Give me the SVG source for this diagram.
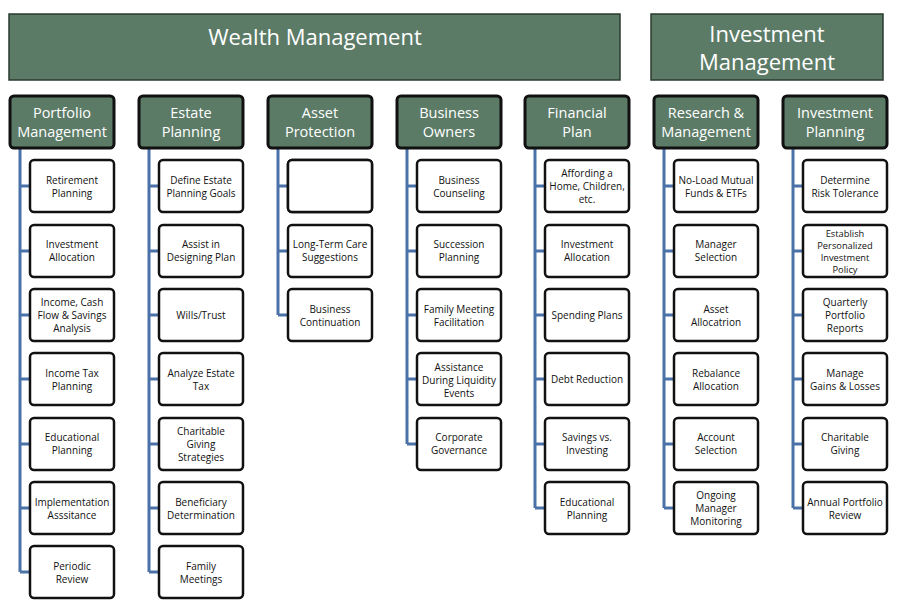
<svg xmlns="http://www.w3.org/2000/svg" width="900" height="610" viewBox="0 0 900 610">
<style>
.ban{fill:#5c7b67;stroke:#2b3a30;stroke-width:1.5}
.hd{fill:#5c7b67;stroke:#111;stroke-width:3}
.bx{fill:#fff;stroke:#111;stroke-width:2.5}
.bt{font-family:"Open Sans","Liberation Sans",sans-serif;font-size:22px;fill:#fff;text-anchor:middle}
.ht{font-family:"Open Sans","Liberation Sans",sans-serif;font-size:14.5px;fill:#fff;text-anchor:middle}
.ct{font-family:"Open Sans","Liberation Sans",sans-serif;font-size:10px;fill:#111;text-anchor:middle}
.cs{font-family:"Open Sans","Liberation Sans",sans-serif;font-size:9.3px;fill:#111;text-anchor:middle}
.ln{fill:none;stroke:#4a72a8;stroke-width:3}
</style>
<rect width="900" height="610" fill="#fff"/>
<g id="wealth"><rect class="ban" x="9" y="14" width="611" height="66"/><text class="bt" x="315" y="45">Wealth Management</text></g>
<g id="invest"><rect class="ban" x="651" y="14" width="232" height="66"/><text class="bt" x="767" y="42">Investment</text><text class="bt" x="767" y="70">Management</text></g>
<g id="connectors">
<path class="ln" d="M20 148V572M20 186H30M20 251H30M20 315H30M20 379H30M20 444H30M20 508H30M20 572H30"/>
<path class="ln" d="M149 148V572M149 186H159M149 251H159M149 315H159M149 379H159M149 444H159M149 508H159M149 572H159"/>
<path class="ln" d="M278 148V315M278 186H288M278 251H288M278 315H288"/>
<path class="ln" d="M407 148V444M407 186H417M407 251H417M407 315H417M407 379H417M407 444H417"/>
<path class="ln" d="M535 148V508M535 186H545M535 251H545M535 315H545M535 379H545M535 444H545M535 508H545"/>
<path class="ln" d="M664 148V508M664 186H674M664 251H674M664 315H674M664 379H674M664 444H674M664 508H674"/>
<path class="ln" d="M793 148V508M793 186H803M793 251H803M793 315H803M793 379H803M793 444H803M793 508H803"/>
</g>
<g id="h1"><rect class="hd" x="10" y="96" width="104" height="52" rx="4"/><text class="ht" x="62" y="118">Portfolio</text><text class="ht" x="62" y="137">Management</text></g>
<g id="h2"><rect class="hd" x="139" y="96" width="104" height="52" rx="4"/><text class="ht" x="191" y="118">Estate</text><text class="ht" x="191" y="137">Planning</text></g>
<g id="h3"><rect class="hd" x="268" y="96" width="104" height="52" rx="4"/><text class="ht" x="320" y="118">Asset</text><text class="ht" x="320" y="137">Protection</text></g>
<g id="h4"><rect class="hd" x="397" y="96" width="104" height="52" rx="4"/><text class="ht" x="449" y="118">Business</text><text class="ht" x="449" y="137">Owners</text></g>
<g id="h5"><rect class="hd" x="525" y="96" width="104" height="52" rx="4"/><text class="ht" x="577" y="118">Financial</text><text class="ht" x="577" y="137">Plan</text></g>
<g id="h6"><rect class="hd" x="654" y="96" width="104" height="52" rx="4"/><text class="ht" x="706" y="118">Research &amp;</text><text class="ht" x="706" y="137">Management</text></g>
<g id="h7"><rect class="hd" x="783" y="96" width="104" height="52" rx="4"/><text class="ht" x="835" y="118">Investment</text><text class="ht" x="835" y="137">Planning</text></g>
<g id="c1">
<rect class="bx" x="30" y="160" width="84" height="52" rx="4"/><text class="ct" x="72" y="184">Retirement</text><text class="ct" x="72" y="197">Planning</text>
<rect class="bx" x="30" y="225" width="84" height="52" rx="4"/><text class="ct" x="72" y="248">Investment</text><text class="ct" x="72" y="261">Allocation</text>
<rect class="bx" x="30" y="289" width="84" height="52" rx="4"/><text class="ct" x="72" y="306">Income, Cash</text><text class="ct" x="72" y="319">Flow &amp; Savings</text><text class="ct" x="72" y="332">Analysis</text>
<rect class="bx" x="30" y="353" width="84" height="52" rx="4"/><text class="ct" x="72" y="377">Income Tax</text><text class="ct" x="72" y="390">Planning</text>
<rect class="bx" x="30" y="418" width="84" height="52" rx="4"/><text class="ct" x="72" y="441">Educational</text><text class="ct" x="72" y="454">Planning</text>
<rect class="bx" x="30" y="482" width="84" height="52" rx="4"/><text class="ct" x="72" y="506">Implementation</text><text class="ct" x="72" y="519">Asssitance</text>
<rect class="bx" x="30" y="546" width="84" height="52" rx="4"/><text class="ct" x="72" y="570">Periodic</text><text class="ct" x="72" y="583">Review</text>
</g>
<g id="c2">
<rect class="bx" x="159" y="160" width="84" height="52" rx="4"/><text class="ct" x="201" y="184">Define Estate</text><text class="ct" x="201" y="197">Planning Goals</text>
<rect class="bx" x="159" y="225" width="84" height="52" rx="4"/><text class="ct" x="201" y="248">Assist in</text><text class="ct" x="201" y="261">Designing Plan</text>
<rect class="bx" x="159" y="289" width="84" height="52" rx="4"/><text class="ct" x="201" y="319">Wills/Trust</text>
<rect class="bx" x="159" y="353" width="84" height="52" rx="4"/><text class="ct" x="201" y="377">Analyze Estate</text><text class="ct" x="201" y="390">Tax</text>
<rect class="bx" x="159" y="418" width="84" height="52" rx="4"/><text class="ct" x="201" y="435">Charitable</text><text class="ct" x="201" y="448">Giving</text><text class="ct" x="201" y="461">Strategies</text>
<rect class="bx" x="159" y="482" width="84" height="52" rx="4"/><text class="ct" x="201" y="506">Beneficiary</text><text class="ct" x="201" y="519">Determination</text>
<rect class="bx" x="159" y="546" width="84" height="52" rx="4"/><text class="ct" x="201" y="570">Family</text><text class="ct" x="201" y="583">Meetings</text>
</g>
<g id="c3">
<rect class="bx" x="288" y="160" width="84" height="52" rx="4"/><text class="ct" x="330" y="177">Determine</text><text class="ct" x="330" y="190">Insurance</text><text class="ct" x="330" y="203">Needs: Life &amp;</text>
<rect class="bx" x="288" y="160" width="84" height="52" rx="4" fill="none" stroke="none"/>
<text class="ct" x="330" y="209" visibility="hidden"> </text>
<rect class="bx" x="288" y="225" width="84" height="52" rx="4"/><text class="ct" x="330" y="248">Long-Term Care</text><text class="ct" x="330" y="261">Suggestions</text>
<rect class="bx" x="288" y="289" width="84" height="52" rx="4"/><text class="ct" x="330" y="313">Business</text><text class="ct" x="330" y="326">Continuation</text>
</g>
<g id="c4">
<rect class="bx" x="417" y="160" width="84" height="52" rx="4"/><text class="ct" x="459" y="184">Business</text><text class="ct" x="459" y="197">Counseling</text>
<rect class="bx" x="417" y="225" width="84" height="52" rx="4"/><text class="ct" x="459" y="248">Succession</text><text class="ct" x="459" y="261">Planning</text>
<rect class="bx" x="417" y="289" width="84" height="52" rx="4"/><text class="ct" x="459" y="313">Family Meeting</text><text class="ct" x="459" y="326">Facilitation</text>
<rect class="bx" x="417" y="353" width="84" height="52" rx="4"/><text class="ct" x="459" y="371">Assistance</text><text class="ct" x="459" y="384">During Liquidity</text><text class="ct" x="459" y="397">Events</text>
<rect class="bx" x="417" y="418" width="84" height="52" rx="4"/><text class="ct" x="459" y="441">Corporate</text><text class="ct" x="459" y="454">Governance</text>
</g>
<g id="c5">
<rect class="bx" x="545" y="160" width="84" height="52" rx="4"/><text class="ct" x="587" y="177">Affording a</text><text class="ct" x="587" y="190">Home, Children,</text><text class="ct" x="587" y="203">etc.</text>
<rect class="bx" x="545" y="225" width="84" height="52" rx="4"/><text class="ct" x="587" y="248">Investment</text><text class="ct" x="587" y="261">Allocation</text>
<rect class="bx" x="545" y="289" width="84" height="52" rx="4"/><text class="ct" x="587" y="319">Spending Plans</text>
<rect class="bx" x="545" y="353" width="84" height="52" rx="4"/><text class="ct" x="587" y="383">Debt Reduction</text>
<rect class="bx" x="545" y="418" width="84" height="52" rx="4"/><text class="ct" x="587" y="441">Savings vs.</text><text class="ct" x="587" y="454">Investing</text>
<rect class="bx" x="545" y="482" width="84" height="52" rx="4"/><text class="ct" x="587" y="506">Educational</text><text class="ct" x="587" y="519">Planning</text>
</g>
<g id="c6">
<rect class="bx" x="674" y="160" width="84" height="52" rx="4"/><text class="ct" x="716" y="184">No-Load Mutual</text><text class="ct" x="716" y="197">Funds &amp; ETFs</text>
<rect class="bx" x="674" y="225" width="84" height="52" rx="4"/><text class="ct" x="716" y="248">Manager</text><text class="ct" x="716" y="261">Selection</text>
<rect class="bx" x="674" y="289" width="84" height="52" rx="4"/><text class="ct" x="716" y="313">Asset</text><text class="ct" x="716" y="326">Allocatrion</text>
<rect class="bx" x="674" y="353" width="84" height="52" rx="4"/><text class="ct" x="716" y="377">Rebalance</text><text class="ct" x="716" y="390">Allocation</text>
<rect class="bx" x="674" y="418" width="84" height="52" rx="4"/><text class="ct" x="716" y="441">Account</text><text class="ct" x="716" y="454">Selection</text>
<rect class="bx" x="674" y="482" width="84" height="52" rx="4"/><text class="ct" x="716" y="499">Ongoing</text><text class="ct" x="716" y="512">Manager</text><text class="ct" x="716" y="525">Monitoring</text>
</g>
<g id="c7">
<rect class="bx" x="803" y="160" width="84" height="52" rx="4"/><text class="ct" x="845" y="184">Determine</text><text class="ct" x="845" y="197">Risk Tolerance</text>
<rect class="bx" x="803" y="225" width="84" height="52" rx="4"/><text class="cs" x="845" y="237">Establish</text><text class="cs" x="845" y="249">Personalized</text><text class="cs" x="845" y="261">Investment</text><text class="cs" x="845" y="273">Policy</text>
<rect class="bx" x="803" y="289" width="84" height="52" rx="4"/><text class="ct" x="845" y="306">Quarterly</text><text class="ct" x="845" y="319">Portfolio</text><text class="ct" x="845" y="332">Reports</text>
<rect class="bx" x="803" y="353" width="84" height="52" rx="4"/><text class="ct" x="845" y="377">Manage</text><text class="ct" x="845" y="390">Gains &amp; Losses</text>
<rect class="bx" x="803" y="418" width="84" height="52" rx="4"/><text class="ct" x="845" y="441">Charitable</text><text class="ct" x="845" y="454">Giving</text>
<rect class="bx" x="803" y="482" width="84" height="52" rx="4"/><text class="ct" x="845" y="506">Annual Portfolio</text><text class="ct" x="845" y="519">Review</text>
</g>
</svg>
